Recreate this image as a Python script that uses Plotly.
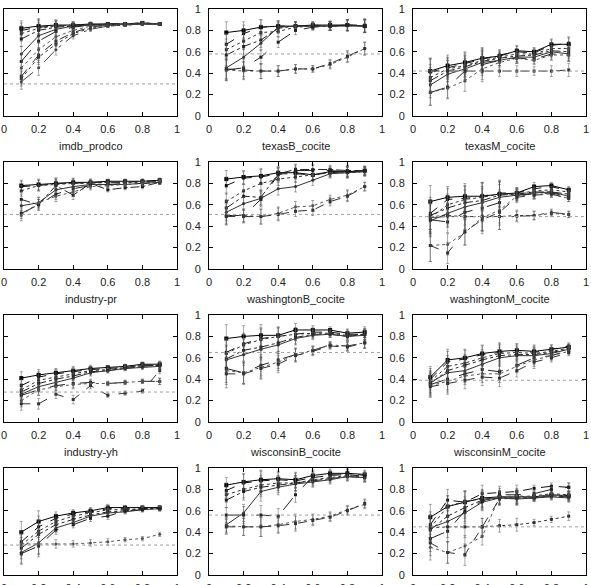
import plotly.graph_objects as go

x_values = [0.1, 0.2, 0.3, 0.4, 0.5, 0.6, 0.7, 0.8, 0.9]
tick_values = [0, 0.2, 0.4, 0.6, 0.8, 1]
tick_labels = ["0", "0.2", "0.4", "0.6", "0.8", "1"]

panel_titles = ["imdb_prodco", "texasB_cocite", "texasM_cocite",
                "industry-pr", "washingtonB_cocite", "washingtonM_cocite",
                "industry-yh", "wisconsinB_cocite", "wisconsinM_cocite",
                "", "", ""]
baselines = [0.30, 0.58, 0.42, 0.51, 0.51, 0.49, 0.28, 0.65, 0.39, 0.28, 0.56, 0.45]

imdb_prodco = [
    [0.82, 0.84, 0.85, 0.85, 0.86, 0.86, 0.86, 0.87, 0.86],
    [0.80, 0.83, 0.84, 0.85, 0.85, 0.86, 0.86, 0.87, 0.86],
    [0.77, 0.82, 0.84, 0.85, 0.85, 0.86, 0.86, 0.87, 0.86],
    [0.72, 0.80, 0.83, 0.84, 0.85, 0.86, 0.86, 0.86, 0.86],
    [0.58, 0.75, 0.81, 0.84, 0.85, 0.85, 0.86, 0.86, 0.86],
    [0.51, 0.70, 0.79, 0.83, 0.85, 0.85, 0.86, 0.86, 0.86],
    [0.45, 0.62, 0.74, 0.80, 0.84, 0.85, 0.86, 0.86, 0.86],
    [0.37, 0.57, 0.70, 0.78, 0.83, 0.85, 0.85, 0.86, 0.86],
    [0.35, 0.55, 0.67, 0.77, 0.82, 0.84, 0.85, 0.86, 0.86],
    [0.32, 0.45, 0.62, 0.75, 0.81, 0.84, 0.85, 0.86, 0.86],
]
imdb_prodco_err = [0.07, 0.07, 0.05, 0.03, 0.02, 0.01, 0.01, 0.01, 0.01]

texasB_cocite = [
    [0.78, 0.80, 0.83, 0.84, 0.84, 0.85, 0.85, 0.85, 0.84],
    [0.67, 0.77, 0.83, 0.84, 0.84, 0.85, 0.84, 0.85, 0.85],
    [0.62, 0.70, 0.78, 0.79, 0.83, 0.84, 0.84, 0.85, 0.84],
    [0.57, 0.65, 0.71, 0.82, 0.84, 0.84, 0.84, 0.85, 0.84],
    [0.45, 0.55, 0.68, 0.83, 0.84, 0.84, 0.84, 0.84, 0.84],
    [0.43, 0.45, 0.55, 0.69, 0.80, 0.83, 0.84, 0.85, 0.84],
    [0.43, 0.42, 0.42, 0.42, 0.44, 0.44, 0.48, 0.55, 0.63],
    [0.44, 0.43, 0.42, 0.42, 0.44, 0.44, 0.49, 0.56, 0.63],
]
texasB_cocite_err = [0.10, 0.08, 0.07, 0.05, 0.04, 0.03, 0.04, 0.05, 0.06]

texasM_cocite = [
    [0.42, 0.47, 0.50, 0.54, 0.56, 0.61, 0.60, 0.67, 0.67],
    [0.41, 0.45, 0.49, 0.53, 0.57, 0.60, 0.59, 0.66, 0.68],
    [0.36, 0.44, 0.47, 0.52, 0.55, 0.58, 0.58, 0.63, 0.63],
    [0.33, 0.42, 0.46, 0.51, 0.54, 0.56, 0.57, 0.61, 0.60],
    [0.29, 0.39, 0.44, 0.50, 0.52, 0.55, 0.55, 0.60, 0.58],
    [0.22, 0.27, 0.42, 0.48, 0.52, 0.54, 0.53, 0.58, 0.57],
    [0.22, 0.26, 0.33, 0.44, 0.50, 0.54, 0.52, 0.57, 0.57],
    [0.42, 0.42, 0.42, 0.42, 0.42, 0.42, 0.42, 0.42, 0.43],
]
texasM_cocite_err = [0.12, 0.10, 0.10, 0.10, 0.05, 0.05, 0.04, 0.05, 0.06]

industry_pr = [
    [0.78, 0.79, 0.80, 0.81, 0.81, 0.82, 0.82, 0.82, 0.83],
    [0.77, 0.78, 0.80, 0.80, 0.81, 0.81, 0.81, 0.82, 0.82],
    [0.73, 0.78, 0.79, 0.80, 0.80, 0.81, 0.81, 0.81, 0.82],
    [0.65, 0.60, 0.78, 0.69, 0.80, 0.74, 0.76, 0.77, 0.81],
    [0.59, 0.62, 0.74, 0.77, 0.79, 0.79, 0.79, 0.80, 0.81],
    [0.52, 0.60, 0.70, 0.75, 0.78, 0.79, 0.80, 0.80, 0.81],
    [0.50, 0.62, 0.68, 0.72, 0.77, 0.78, 0.79, 0.80, 0.82],
]
industry_pr_err = [0.05, 0.05, 0.05, 0.04, 0.03, 0.02, 0.02, 0.02, 0.02]

washingtonB_cocite = [
    [0.84, 0.86, 0.87, 0.90, 0.90, 0.88, 0.91, 0.91, 0.92],
    [0.78, 0.85, 0.86, 0.89, 0.89, 0.88, 0.90, 0.91, 0.91],
    [0.63, 0.73, 0.80, 0.84, 0.86, 0.88, 0.90, 0.90, 0.91],
    [0.57, 0.68, 0.67, 0.89, 0.93, 0.93, 0.93, 0.92, 0.92],
    [0.53, 0.61, 0.66, 0.75, 0.77, 0.83, 0.89, 0.90, 0.91],
    [0.50, 0.50, 0.65, 0.88, 0.92, 0.92, 0.92, 0.91, 0.92],
    [0.50, 0.50, 0.49, 0.52, 0.58, 0.59, 0.65, 0.69, 0.77],
    [0.49, 0.49, 0.49, 0.51, 0.54, 0.55, 0.63, 0.68, 0.77],
]
washingtonB_cocite_err = [0.08, 0.06, 0.07, 0.06, 0.05, 0.05, 0.04, 0.05, 0.04]

washingtonM_cocite = [
    [0.63, 0.67, 0.68, 0.68, 0.70, 0.71, 0.77, 0.78, 0.74],
    [0.52, 0.65, 0.66, 0.68, 0.71, 0.71, 0.75, 0.77, 0.73],
    [0.48, 0.60, 0.65, 0.67, 0.70, 0.70, 0.73, 0.74, 0.72],
    [0.50, 0.57, 0.62, 0.64, 0.69, 0.70, 0.72, 0.72, 0.70],
    [0.45, 0.52, 0.58, 0.62, 0.67, 0.69, 0.71, 0.72, 0.68],
    [0.46, 0.44, 0.53, 0.57, 0.62, 0.69, 0.70, 0.71, 0.68],
    [0.22, 0.23, 0.34, 0.48, 0.55, 0.68, 0.70, 0.70, 0.66],
    [0.22, 0.15, 0.35, 0.46, 0.53, 0.67, 0.69, 0.70, 0.66],
    [0.49, 0.50, 0.49, 0.49, 0.49, 0.50, 0.50, 0.52, 0.51],
    [0.48, 0.49, 0.49, 0.49, 0.49, 0.49, 0.50, 0.53, 0.51],
]
washingtonM_cocite_err = [0.15, 0.10, 0.12, 0.13, 0.12, 0.05, 0.04, 0.03, 0.03]

industry_yh = [
    [0.41, 0.44, 0.46, 0.48, 0.50, 0.51, 0.52, 0.54, 0.54],
    [0.34, 0.42, 0.45, 0.47, 0.49, 0.50, 0.51, 0.53, 0.53],
    [0.30, 0.39, 0.42, 0.45, 0.48, 0.49, 0.51, 0.53, 0.53],
    [0.28, 0.36, 0.40, 0.43, 0.47, 0.48, 0.50, 0.52, 0.53],
    [0.26, 0.33, 0.37, 0.41, 0.46, 0.48, 0.50, 0.51, 0.52],
    [0.25, 0.30, 0.34, 0.36, 0.37, 0.36, 0.37, 0.38, 0.38],
    [0.20, 0.30, 0.33, 0.35, 0.36, 0.36, 0.37, 0.38, 0.38],
    [0.17, 0.17, 0.26, 0.21, 0.34, 0.25, 0.27, 0.29, 0.48],
]
industry_yh_err = [0.06, 0.05, 0.04, 0.04, 0.03, 0.02, 0.02, 0.02, 0.03]

wisconsinB_cocite = [
    [0.78, 0.80, 0.81, 0.81, 0.86, 0.86, 0.86, 0.83, 0.84],
    [0.65, 0.73, 0.78, 0.80, 0.82, 0.84, 0.84, 0.82, 0.82],
    [0.64, 0.72, 0.77, 0.80, 0.82, 0.83, 0.83, 0.81, 0.82],
    [0.59, 0.67, 0.70, 0.74, 0.79, 0.82, 0.82, 0.80, 0.82],
    [0.58, 0.63, 0.68, 0.72, 0.78, 0.81, 0.82, 0.80, 0.81],
    [0.50, 0.46, 0.53, 0.58, 0.63, 0.67, 0.72, 0.71, 0.74],
    [0.48, 0.46, 0.51, 0.56, 0.63, 0.67, 0.72, 0.71, 0.74],
    [0.45, 0.45, 0.50, 0.54, 0.62, 0.66, 0.71, 0.70, 0.74],
]
wisconsinB_cocite_err = [0.13, 0.10, 0.10, 0.08, 0.06, 0.04, 0.03, 0.04, 0.05]

wisconsinM_cocite = [
    [0.42, 0.58, 0.60, 0.64, 0.66, 0.67, 0.66, 0.68, 0.70],
    [0.40, 0.56, 0.59, 0.63, 0.65, 0.67, 0.65, 0.68, 0.71],
    [0.38, 0.52, 0.55, 0.60, 0.64, 0.65, 0.64, 0.66, 0.69],
    [0.36, 0.48, 0.53, 0.58, 0.62, 0.63, 0.63, 0.65, 0.68],
    [0.37, 0.46, 0.48, 0.54, 0.60, 0.62, 0.62, 0.64, 0.68],
    [0.35, 0.40, 0.45, 0.49, 0.47, 0.53, 0.60, 0.62, 0.67],
    [0.34, 0.38, 0.43, 0.45, 0.45, 0.52, 0.58, 0.62, 0.66],
    [0.33, 0.36, 0.39, 0.42, 0.41, 0.48, 0.56, 0.60, 0.65],
]
wisconsinM_cocite_err = [0.10, 0.10, 0.08, 0.08, 0.08, 0.06, 0.06, 0.04, 0.03]

panel10 = [
    [0.40, 0.50, 0.55, 0.58, 0.60, 0.63, 0.63, 0.63, 0.63],
    [0.31, 0.45, 0.53, 0.57, 0.59, 0.62, 0.62, 0.62, 0.63],
    [0.28, 0.41, 0.50, 0.55, 0.58, 0.61, 0.61, 0.62, 0.62],
    [0.25, 0.38, 0.47, 0.52, 0.56, 0.59, 0.60, 0.62, 0.62],
    [0.21, 0.30, 0.44, 0.49, 0.55, 0.58, 0.59, 0.61, 0.62],
    [0.20, 0.27, 0.42, 0.47, 0.53, 0.55, 0.60, 0.61, 0.62],
    [0.29, 0.29, 0.29, 0.29, 0.30, 0.31, 0.33, 0.34, 0.38],
]
panel10_err = [0.10, 0.10, 0.04, 0.03, 0.03, 0.03, 0.02, 0.02, 0.02]

panel11 = [
    [0.84, 0.87, 0.89, 0.90, 0.89, 0.93, 0.95, 0.95, 0.94],
    [0.79, 0.86, 0.88, 0.89, 0.88, 0.91, 0.93, 0.94, 0.92],
    [0.75, 0.80, 0.84, 0.86, 0.86, 0.89, 0.91, 0.93, 0.91],
    [0.70, 0.78, 0.82, 0.84, 0.86, 0.88, 0.90, 0.92, 0.91],
    [0.47, 0.58, 0.78, 0.82, 0.85, 0.87, 0.89, 0.92, 0.91],
    [0.56, 0.56, 0.56, 0.55, 0.75, 0.92, 0.94, 0.95, 0.93],
    [0.46, 0.45, 0.45, 0.47, 0.50, 0.52, 0.55, 0.61, 0.66],
    [0.45, 0.45, 0.45, 0.46, 0.48, 0.51, 0.54, 0.60, 0.67],
]
panel11_err = [0.07, 0.08, 0.09, 0.07, 0.07, 0.05, 0.04, 0.04, 0.04]

panel12 = [
    [0.54, 0.64, 0.68, 0.72, 0.73, 0.73, 0.73, 0.75, 0.74],
    [0.47, 0.70, 0.68, 0.76, 0.77, 0.78, 0.81, 0.83, 0.82],
    [0.44, 0.64, 0.69, 0.71, 0.72, 0.73, 0.74, 0.76, 0.75],
    [0.42, 0.55, 0.63, 0.70, 0.72, 0.72, 0.72, 0.74, 0.73],
    [0.44, 0.50, 0.58, 0.68, 0.72, 0.71, 0.72, 0.73, 0.72],
    [0.34, 0.41, 0.60, 0.69, 0.75, 0.75, 0.76, 0.80, 0.82],
    [0.26, 0.21, 0.27, 0.36, 0.73, 0.74, 0.73, 0.75, 0.74],
    [0.30, 0.21, 0.19, 0.45, 0.71, 0.72, 0.72, 0.74, 0.73],
    [0.44, 0.45, 0.45, 0.45, 0.46, 0.47, 0.49, 0.52, 0.55],
]
panel12_err = [0.12, 0.10, 0.10, 0.08, 0.06, 0.06, 0.03, 0.03, 0.04]

panels = [imdb_prodco, texasB_cocite, texasM_cocite,
          industry_pr, washingtonB_cocite, washingtonM_cocite,
          industry_yh, wisconsinB_cocite, wisconsinM_cocite,
          panel10, panel11, panel12]
panel_errs = [imdb_prodco_err, texasB_cocite_err, texasM_cocite_err,
              industry_pr_err, washingtonB_cocite_err, washingtonM_cocite_err,
              industry_yh_err, wisconsinB_cocite_err, wisconsinM_cocite_err,
              panel10_err, panel11_err, panel12_err]

# ---- layout geometry (pixels) ----
W, H = 591, 585
col_left = [4, 209, 413]
col_w = 173
row_bottom = [116, 269, 422, 575]
row_h = 107

line_styles = [
    ("solid", "#000000", "square", 4),
    ("dash", "#111111", "square", 3),
    ("dot", "#333333", "square", 3),
    ("dashdot", "#222222", "square", 3),
    ("solid", "#333333", "circle", 3),
    ("longdash", "#222222", "square", 3),
    ("dot", "#555555", "circle", 3),
    ("dash", "#333333", "square", 3),
    ("dot", "#333333", "square", 3),
    ("longdashdot", "#444444", "circle", 3),
]

fig = go.Figure()
font = dict(family="Liberation Sans, Arial, sans-serif", size=11, color="#222222")

for i, series in enumerate(panels):
    r, c = divmod(i, 3)
    n = i + 1
    xa = "x" if n == 1 else f"x{n}"
    ya = "y" if n == 1 else f"y{n}"
    err = panel_errs[i]
    for k, s in enumerate(series):
        dash, color, sym, msz = line_styles[k % len(line_styles)]
        fig.add_trace(go.Scatter(
            x=x_values, y=s, mode="lines+markers",
            line=dict(color=color, width=1, dash=dash),
            marker=dict(symbol=sym, size=msz, color=color),
            error_y=dict(type="data", array=err, thickness=0.5, width=1.5, color="#555555"),
            xaxis=xa, yaxis=ya, showlegend=False, hoverinfo="skip"))
    fig.add_trace(go.Scatter(
        x=[0, 1], y=[baselines[i], baselines[i]], mode="lines",
        line=dict(color="#a0a0a0", width=1, dash="dot"),
        xaxis=xa, yaxis=ya, showlegend=False, hoverinfo="skip"))

    x0 = col_left[c] / W
    x1 = (col_left[c] + col_w) / W
    y0 = 1 - row_bottom[r] / H
    y1 = 1 - (row_bottom[r] - row_h) / H
    axis_common = dict(range=[0, 1], tickvals=tick_values, ticktext=tick_labels,
                       ticks="inside", ticklen=4, tickwidth=1, tickcolor="#000000",
                       showline=True, linecolor="#000000", linewidth=1, mirror="ticks",
                       showgrid=False, zeroline=False, tickfont=font, automargin=False,
                       fixedrange=True)
    fig.layout[f"xaxis{'' if n == 1 else n}"] = dict(domain=[x0, x1], anchor=ya,
                                                       ticklabelstandoff=3, **axis_common)
    fig.layout[f"yaxis{'' if n == 1 else n}"] = dict(domain=[y0, y1], anchor=xa,
                                                       ticklabelstandoff=5,
                                                       showticklabels=(c != 0),
                                                       **axis_common)
    if panel_titles[i]:
        fig.add_annotation(text=panel_titles[i], xref="paper", yref="paper",
                           x=(x0 + x1) / 2, y=1 - (row_bottom[r] + 30) / H,
                           xanchor="center", yanchor="middle", showarrow=False, font=font)

fig.update_layout(width=W, height=H, margin=dict(l=0, r=0, t=0, b=0),
                  paper_bgcolor="white", plot_bgcolor="white", font=font)
fig.write_html("out.html")
